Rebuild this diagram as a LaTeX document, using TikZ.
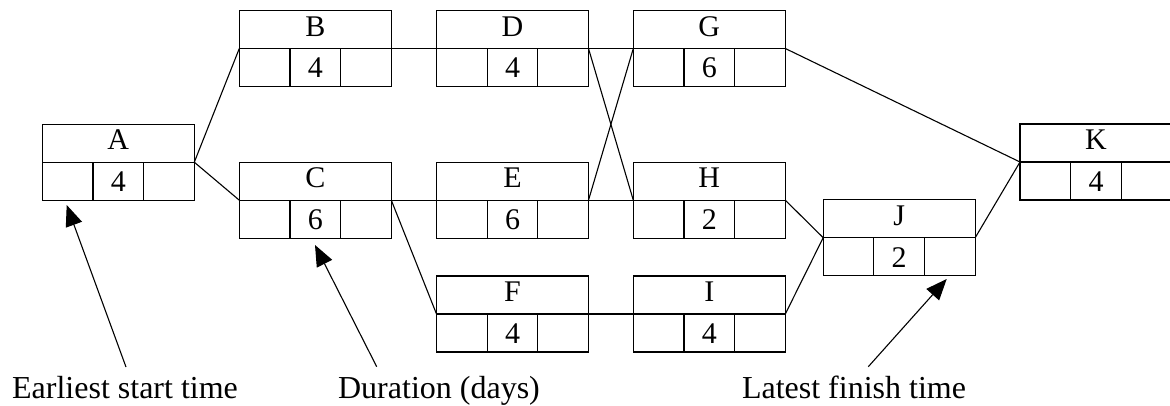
\documentclass[tikz,border=0pt]{standalone}
\usepackage{fontspec}
\setmainfont{Liberation Serif}
\usetikzlibrary{calc,arrows.meta}
\tikzset{
  actbox/.style={draw, line width=1.1pt, minimum width=152pt, minimum height=76pt, inner sep=0pt, outer sep=0pt},
  boxtxt/.style={font=\fontsize{30}{36}\selectfont, anchor=base, inner sep=0pt},
  lbl/.style={font=\fontsize{32}{38}\selectfont, anchor=base, inner sep=0pt},
  link/.style={line width=1.1pt},
  pointer/.style={line width=1.1pt, -{Triangle[length=21pt,width=17pt]}}
}
\newcommand\actnode[5]{%
  \node[actbox] (#1) at (#2,#3) {};
  \draw[link] (#1.west) -- (#1.east)
    ($(#1.south west)!1/3!(#1.south east)$) -- ($(#1.west)!1/3!(#1.east)$)
    ($(#1.south west)!2/3!(#1.south east)$) -- ($(#1.west)!2/3!(#1.east)$);
  \node[boxtxt] (#1-name) at ($(#1.north)+(0,25.7)$) {#4};
  \node[boxtxt] (#1-dur) at ($(#1.center)+(0,29.4)$) {#5};
}
\begin{document}
\begin{tikzpicture}[x=1pt,y=-1pt]
\useasboundingbox (0,0) rectangle (1170,406);
\clip (0,0) rectangle (1170,406);
\actnode{A}{118.3}{162.2}{A}{4}
\actnode{B}{315.3}{48.5}{B}{4}
\actnode{C}{315.3}{200.2}{C}{6}
\actnode{D}{512.5}{48.5}{D}{4}
\actnode{E}{512.5}{200.2}{E}{6}
\actnode{F}{512.5}{314}{F}{4}
\actnode{G}{709.3}{48.5}{G}{6}
\actnode{H}{709.3}{200.2}{H}{2}
\actnode{I}{709.3}{314}{I}{4}
\actnode{J}{899.2}{237.7}{J}{2}
\actnode{K}{1096}{162}{K}{4}
\draw[link] (A.east) -- (B.west);
\draw[link] (A.east) -- (C.west);
\draw[link] (B.east) -- (D.west);
\draw[link] (C.east) -- (E.west);
\draw[link] (C.east) -- (F.west);
\draw[link] (D.east) -- (G.west);
\draw[link] (D.east) -- (H.west);
\draw[link] (E.east) -- (G.west);
\draw[link] (E.east) -- (H.west);
\draw[link] (F.east) -- (I.west);
\draw[link] (G.east) -- (K.west);
\draw[link] (H.east) -- (J.west);
\draw[link] (I.east) -- (J.west);
\draw[link] (J.east) -- (K.west);
\node[lbl] (est) at (125,398) {Earliest start time};
\node[lbl] (dur) at (439,398) {Duration (days)};
\node[lbl] (lft) at (854,398) {Latest finish time};
\coordinate (estTail) at (126,367);
\coordinate (estTip) at (66.7,205);
\coordinate (durTail) at (376.7,366.7);
\coordinate (durTip) at (315,245);
\coordinate (lftTail) at (868.3,366.7);
\coordinate (lftTip) at (946.7,279);
\draw[pointer] (estTail) -- (estTip);
\draw[pointer] (durTail) -- (durTip);
\draw[pointer] (lftTail) -- (lftTip);
\end{tikzpicture}
\end{document}
